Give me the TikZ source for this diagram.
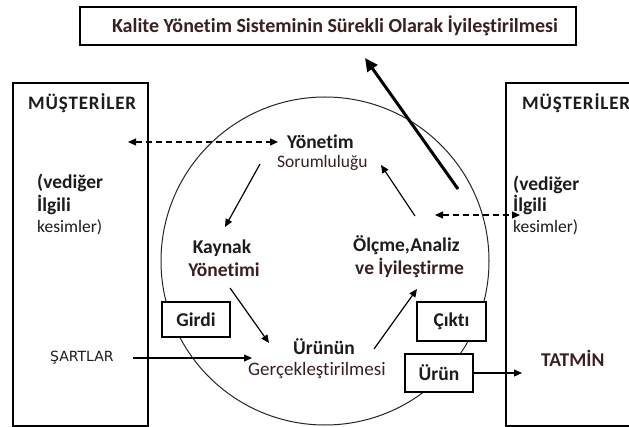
\documentclass[tikz,border=0pt]{standalone}
\usepackage{fontspec}
\setmainfont{Carlito}[Ligatures=NoCommon]
\newfontfamily\plainsans{DejaVu Sans}
\newfontfamily\widebold{Carlito Bold}[LetterSpace=4.5, Ligatures=NoCommon]
\usetikzlibrary{arrows.meta}
\definecolor{ink}{HTML}{1C1C1C}
\definecolor{brownink}{HTML}{3A2020}
\begin{document}
\begin{tikzpicture}[x=1pt,y=-1pt,
  frame/.style={draw=black, line width=1.2pt, fill=white},
  tag/.style={draw=black, line width=1.2pt, fill=white, inner sep=0pt,
              font=\bfseries\fontsize{19.5}{22}\selectfont, text=ink},
  bold/.style={font=\bfseries\fontsize{19.5}{22}\selectfont, text=ink, inner sep=0pt},
  boldb/.style={font=\bfseries\fontsize{19.5}{22}\selectfont, text=brownink, inner sep=0pt},
  head/.style={font=\widebold\fontsize{19}{22}\selectfont, text=ink, inner sep=0pt},
  reg/.style={font=\fontsize{17.5}{20}\selectfont, text=brownink, inner sep=0pt},
  flow/.style={-{Triangle[length=8pt,width=7pt]}, line width=1.2pt},
  dflow/.style={{Triangle[length=8pt,width=7pt]}-{Triangle[length=8pt,width=7pt]},
                dash pattern=on 6pt off 4pt, line width=1.2pt},
  bigflow/.style={-{Triangle[length=13pt,width=12pt]}, line width=3pt},
]
\useasboundingbox (0,0) rectangle (629,427);
\fill[white] (0,0) rectangle (629,427);

% the process cycle
\draw[line width=1pt, black!85] (325,261) circle[radius=164pt];

% title and the two customer columns
\node[frame, minimum width=496pt, minimum height=38pt, inner sep=0pt] (title) at (328,26) {};
\node[font=\bfseries\fontsize{20}{22}\selectfont, text=brownink, inner sep=0pt] (titletext) at (335,26)
  {Kalite Yönetim Sisteminin Sürekli Olarak İyileştirilmesi};
\draw[frame] (13,83) rectangle (148,426);
\draw[frame] (506,83) rectangle (640,426);

% left column
\node[head, anchor=west] (mL) at (28,103) {MÜŞTERİLER};
\node[bold, anchor=west] (vL) at (37,183) {(vediğer};
\node[bold, anchor=west] (iL) at (37,205) {İlgili};
\node[reg, text=ink, anchor=west] (kL) at (37,227) {kesimler)};
\node[font=\plainsans\fontsize{14}{16}\selectfont, text=ink, inner sep=0pt, anchor=west] (sartlar) at (50,358) {ŞARTLAR};

% right column
\node[head, anchor=west] (mR) at (522,103) {MÜŞTERİLER};
\node[bold, anchor=west] (vR) at (513,185) {(vediğer};
\node[bold, anchor=west] (iR) at (513,205) {İlgili};
\node[reg, text=ink, anchor=west] (kR) at (513,227) {kesimler)};
\node[boldb, anchor=west] (tatmin) at (541,358) {TATMİN};

% process steps
\node[bold, anchor=west] (yon) at (287,142) {Yönetim};
\node[reg, anchor=west] (sor) at (277,163) {Sorumluluğu};
\node[bold] (kay) at (222,248) {Kaynak};
\node[boldb] (kayy) at (224,270) {Yönetimi};
\node[bold, anchor=west] (urn) at (293,347) {Ürünün};
\node[reg, font=\fontsize{19}{21}\selectfont, anchor=west] (ger) at (248,370) {Gerçekleştirilmesi};
\node[bold, anchor=west] (olc) at (353,245) {Ölçme,Analiz};
\node[boldb, anchor=west] (ve) at (355,268) {ve İyileştirme};

% input / output tags
\node[tag, minimum width=68pt, minimum height=35pt] (girdi) at (196,319.5) {Girdi};
\node[tag, minimum width=69pt, minimum height=39pt] (cikti) at (451.5,321.5) {Çıktı};
\node[tag, minimum width=68pt, minimum height=38pt] (urun) at (439,373) {Ürün};

% connector ends
\coordinate (dL1) at (128,142);
\coordinate (dL2) at (278,142);
\coordinate (dR1) at (435,215);
\coordinate (dR2) at (520,215);
\coordinate (a1s) at (260,164);
\coordinate (a1e) at (225,227);
\coordinate (a2s) at (230,288);
\coordinate (a2e) at (269,343);
\coordinate (a3s) at (374,349);
\coordinate (a3e) at (417,289);
\coordinate (a4s) at (415,216);
\coordinate (a4e) at (381,165);
\coordinate (sIn) at (133,358);
\coordinate (sOut) at (252,358);
\coordinate (tIn) at (522,373);
\coordinate (bigS) at (458,189);
\coordinate (bigE) at (365,58);

\draw[dflow] (dL1) -- (dL2);
\draw[dflow] (dR1) -- (dR2);
\draw[flow] (a1s) -- (a1e);
\draw[flow] (a2s) -- (a2e);
\draw[flow] (a3s) -- (a3e);
\draw[flow] (a4s) -- (a4e);
\draw[flow] (sIn) -- (sOut);
\draw[flow] (urun.east) -- (tIn);
\draw[bigflow] (bigS) -- (bigE);
\end{tikzpicture}
\end{document}
